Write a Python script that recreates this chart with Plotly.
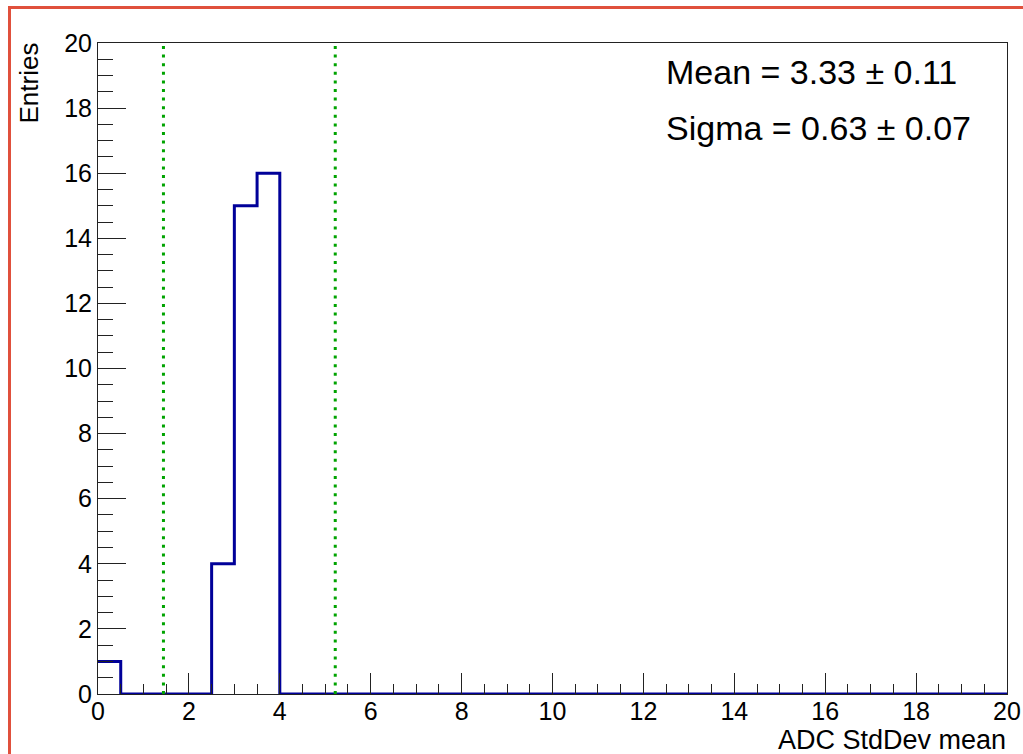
import numpy as np
import plotly.graph_objects as go

# ---- data ----
bin_edges = [i * 0.5 for i in range(41)]  # 0..20, width 0.5
counts = [1, 0, 0, 0, 0, 4, 15, 16] + [0] * 32
fit_mean = 3.33
fit_mean_err = 0.11
fit_sigma = 0.63
fit_sigma_err = 0.07
window_lines = [1.44, 5.22]  # mean -/+ 3 sigma
x_title = "ADC StdDev mean"
y_title = "Entries"

FONT = "Liberation Sans, Arial, Helvetica, sans-serif"

# plot-area pixel geometry
W, H = 1023, 754
L, R, T, B = 98, 16, 43, 60
PW, PH = W - L - R, H - T - B


def px_x(p):
    return (p - L) / PW


def px_y(p):
    return (H - B - p) / PH


fig = go.Figure()

# histogram outline as step line
xs = list(bin_edges)
ys = list(counts) + [counts[-1]]
fig.add_trace(go.Scatter(
    x=xs, y=ys, mode="lines", line_shape="hv",
    line=dict(color="#000099", width=3), showlegend=False, hoverinfo="skip",
    cliponaxis=False))

# green dotted window lines
for xv in window_lines:
    fig.add_trace(go.Scatter(
        x=[xv, xv], y=[0, 20], mode="lines",
        line=dict(color="#00a300", width=3, dash="3px,5.6px"),
        showlegend=False, hoverinfo="skip"))

axis_common = dict(
    showgrid=False, zeroline=False, showline=True, linecolor="#222222",
    linewidth=1, mirror=True, ticks="inside", tickcolor="#222222",
    tickwidth=1, tickfont=dict(family=FONT, size=25, color="black"),
    automargin=False,
)

fig.update_xaxes(range=[0, 20], dtick=2, tick0=0, ticklen=21,
                 ticklabelstandoff=-5,
                 minor=dict(dtick=0.5, tick0=0, ticks="inside", ticklen=10,
                            tickcolor="#222222", tickwidth=1, showgrid=False),
                 **axis_common)
fig.update_yaxes(range=[0, 20], dtick=2, tick0=0, ticklen=28,
                 minor=dict(dtick=0.5, tick0=0, ticks="inside", ticklen=15,
                            tickcolor="#222222", tickwidth=1, showgrid=False),
                 **axis_common)

annotations = [
    dict(text=f"Mean = {fit_mean:.2f} \u00b1 {fit_mean_err:.2f}",
         xref="paper", yref="paper", x=px_x(664), y=px_y(72),
         xanchor="left", yanchor="middle", showarrow=False,
         font=dict(family=FONT, size=34, color="black")),
    dict(text=f"Sigma = {fit_sigma:.2f} \u00b1 {fit_sigma_err:.2f}",
         xref="paper", yref="paper", x=px_x(664), y=px_y(128),
         xanchor="left", yanchor="middle", showarrow=False,
         font=dict(family=FONT, size=34, color="black")),
    dict(text=x_title, xref="paper", yref="paper", x=px_x(1008), y=px_y(740),
         xanchor="right", yanchor="middle", showarrow=False,
         font=dict(family=FONT, size=27, color="black")),
    dict(text=y_title, xref="paper", yref="paper", x=px_x(29), y=px_y(41),
         xanchor="center", yanchor="top", textangle=-90, showarrow=False,
         font=dict(family=FONT, size=26, color="black")),
]

border = "#e0503c"
shapes = [
    dict(type="line", xref="paper", yref="paper", x0=px_x(8), x1=px_x(1030),
         y0=px_y(7.5), y1=px_y(7.5), line=dict(color=border, width=3)),
    dict(type="line", xref="paper", yref="paper", x0=px_x(9.5), x1=px_x(9.5),
         y0=px_y(6), y1=px_y(760), line=dict(color=border, width=3)),
]

fig.update_layout(
    width=W, height=H, margin=dict(l=L, r=R, t=T, b=B, pad=0),
    paper_bgcolor="white", plot_bgcolor="white",
    annotations=annotations, shapes=shapes, showlegend=False,
    font=dict(family=FONT, color="black"),
)

fig.write_html("out.html")
